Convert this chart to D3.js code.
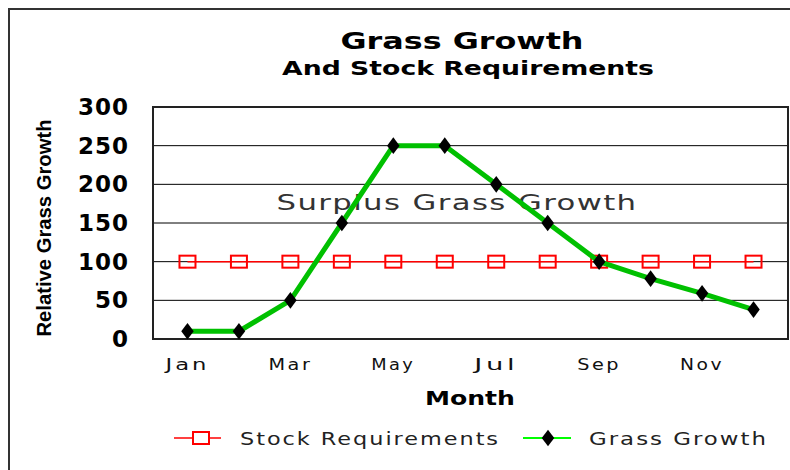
<!DOCTYPE html>
<html>
<head>
<meta charset="utf-8">
<script src="https://cdn.jsdelivr.net/npm/d3@7"></script>
<style>
  body { margin: 0; background: #fff; }
  svg { display: block; }
</style>
</head>
<body>
<div id="chart"></div>
<script>
const months = ['Jan', 'Feb', 'Mar', 'Apr', 'May', 'Jun', 'Jul', 'Aug', 'Sep', 'Oct', 'Nov', 'Dec'];
const grassGrowth = [10, 10, 50, 150, 250, 250, 200, 150, 100, 78, 59, 38];
const stockReq = [100, 100, 100, 100, 100, 100, 100, 100, 100, 100, 100, 100];
const yTicks = [0, 50, 100, 150, 200, 250, 300];
const xLabels = ['Jan', 'Mar', 'May', 'Jul', 'Sep', 'Nov'];

const width = 790;
const height = 470;
const margin = { top: 107, right: 2, bottom: 131, left: 153 };
const font = 'DejaVu Sans, Verdana, sans-serif';

const svg = d3.select('#chart')
  .append('svg')
  .attr('width', width)
  .attr('height', height);

// outer frame
svg.append('rect')
  .attr('x', 9).attr('y', 9)
  .attr('width', width + 10).attr('height', height + 10)
  .attr('fill', 'none')
  .attr('stroke', '#333')
  .attr('stroke-width', 2);

const xScale = d3.scalePoint()
  .domain(months)
  .range([margin.left, width - margin.right])
  .padding(0.67);

const yScale = d3.scaleLinear()
  .domain([0, 300])
  .range([height - margin.bottom, margin.top]);

// grid lines
svg.append('g')
  .selectAll('line')
  .data(yTicks.slice(1, -1))
  .join('line')
  .attr('x1', margin.left)
  .attr('x2', width - margin.right)
  .attr('y1', d => yScale(d))
  .attr('y2', d => yScale(d))
  .attr('stroke', '#000')
  .attr('stroke-width', 1);

// plot border
svg.append('rect')
  .attr('x', margin.left)
  .attr('y', margin.top)
  .attr('width', width - margin.right - margin.left)
  .attr('height', height - margin.bottom - margin.top)
  .attr('fill', 'none')
  .attr('stroke', '#222')
  .attr('stroke-width', 2);

// y tick labels
svg.append('g')
  .selectAll('text')
  .data(yTicks)
  .join('text')
  .attr('x', 129)
  .attr('y', d => yScale(d) + 8)
  .attr('text-anchor', 'end')
  .style('font-family', font)
  .style('font-weight', 'bold')
  .style('font-size', '23px')
  .style('letter-spacing', '1px')
  .text(d => d);

// x tick labels
svg.append('g')
  .selectAll('text')
  .data(xLabels)
  .join('text')
  .attr('x', d => xScale(d))
  .attr('y', 370)
  .attr('text-anchor', 'middle')
  .attr('textLength', 44)
  .attr('lengthAdjust', 'spacingAndGlyphs')
  .style('font-family', font)
  .style('font-size', '15px')
  .style('letter-spacing', '2px')
  .attr('fill', '#111')
  .text(d => d);

// axis titles
svg.append('text')
  .attr('transform', 'translate(51,228) rotate(-90)')
  .attr('text-anchor', 'middle')
  .attr('textLength', 217)
  .attr('lengthAdjust', 'spacingAndGlyphs')
  .style('font-family', 'Liberation Sans, Arial, sans-serif')
  .style('font-weight', 'bold')
  .style('font-size', '21px')
  .text('Relative Grass Growth');

svg.append('text')
  .attr('x', 470)
  .attr('y', 405)
  .attr('text-anchor', 'middle')
  .attr('textLength', 90)
  .attr('lengthAdjust', 'spacingAndGlyphs')
  .style('font-family', font)
  .style('font-weight', 'bold')
  .style('font-size', '20px')
  .text('Month');

// titles
svg.append('text')
  .attr('x', 462)
  .attr('y', 49)
  .attr('text-anchor', 'middle')
  .attr('textLength', 243)
  .attr('lengthAdjust', 'spacingAndGlyphs')
  .style('font-family', font)
  .style('font-weight', 'bold')
  .style('font-size', '23px')
  .text('Grass Growth');

svg.append('text')
  .attr('x', 468)
  .attr('y', 75)
  .attr('text-anchor', 'middle')
  .attr('textLength', 372)
  .attr('lengthAdjust', 'spacingAndGlyphs')
  .style('font-family', font)
  .style('font-weight', 'bold')
  .style('font-size', '19px')
  .text('And Stock Requirements');

// annotation
svg.append('text')
  .attr('x', 457)
  .attr('y', 210)
  .attr('text-anchor', 'middle')
  .attr('textLength', 361)
  .attr('lengthAdjust', 'spacingAndGlyphs')
  .style('font-family', font)
  .style('font-size', '22px')
  .style('letter-spacing', '1px')
  .attr('fill', '#333')
  .text('Surplus Grass Growth');

// stock requirements
const lineGen = d3.line()
  .x((d, i) => xScale(months[i]))
  .y(d => yScale(d));

svg.append('path')
  .datum(stockReq)
  .attr('d', lineGen)
  .attr('fill', 'none')
  .attr('stroke', '#ff0000')
  .attr('stroke-width', 1.5);

svg.append('g')
  .selectAll('rect')
  .data(stockReq)
  .join('rect')
  .attr('x', (d, i) => xScale(months[i]) - 8)
  .attr('y', d => yScale(d) - 6)
  .attr('width', 16)
  .attr('height', 12)
  .attr('fill', 'none')
  .attr('stroke', '#ff0000')
  .attr('stroke-width', 2);

// grass growth
svg.append('path')
  .datum(grassGrowth)
  .attr('d', lineGen)
  .attr('fill', 'none')
  .attr('stroke', '#00c000')
  .attr('stroke-width', 5)
  .attr('stroke-linejoin', 'round');

const diamond = d3.symbol().type(d3.symbolDiamond).size(80);

svg.append('g')
  .selectAll('path')
  .data(grassGrowth)
  .join('path')
  .attr('transform', (d, i) => `translate(${xScale(months[i])},${yScale(d)}) scale(1.3,1)`)
  .attr('d', diamond)
  .attr('fill', '#000');

// legend
const legend = svg.append('g')
  .style('font-family', font)
  .style('font-size', '17px')
  .style('letter-spacing', '1.5px');

legend.append('line')
  .attr('x1', 174).attr('x2', 221)
  .attr('y1', 438).attr('y2', 438)
  .attr('stroke', '#ff0000')
  .attr('stroke-width', 1.5);
legend.append('rect')
  .attr('x', 193).attr('y', 432)
  .attr('width', 16).attr('height', 12)
  .attr('fill', '#fff')
  .attr('stroke', '#ff0000')
  .attr('stroke-width', 2);
legend.append('text')
  .attr('x', 240).attr('y', 445)
  .attr('textLength', 260)
  .attr('lengthAdjust', 'spacingAndGlyphs')
  .attr('fill', '#222')
  .text('Stock Requirements');

legend.append('line')
  .attr('x1', 523).attr('x2', 571)
  .attr('y1', 438).attr('y2', 438)
  .attr('stroke', '#00ff00')
  .attr('stroke-width', 2);
legend.append('path')
  .attr('transform', 'translate(548,438) scale(1.3,1)')
  .attr('d', diamond)
  .attr('fill', '#000');
legend.append('text')
  .attr('x', 589).attr('y', 445)
  .attr('textLength', 179)
  .attr('lengthAdjust', 'spacingAndGlyphs')
  .attr('fill', '#222')
  .text('Grass Growth');
</script>
</body>
</html>
